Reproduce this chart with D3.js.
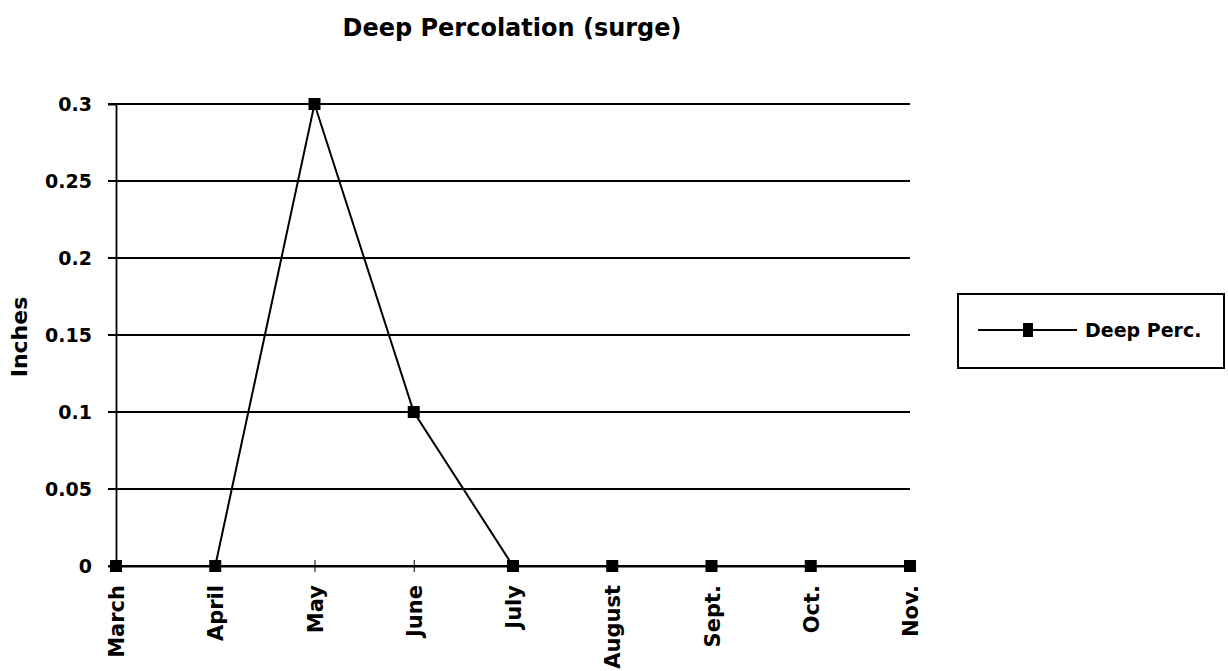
<!DOCTYPE html>
<html>
<head>
<meta charset="utf-8">
<script src="https://cdn.jsdelivr.net/npm/d3@7"></script>
<style>
  body { margin: 0; background: #fff; }
  text { font-family: "DejaVu Sans", "Liberation Sans", sans-serif; fill: #000; }
</style>
</head>
<body>
<div id="chart"></div>
<script>
var months = ["March", "April", "May", "June", "July", "August", "Sept.", "Oct.", "Nov."];
var deepPerc = [0, 0, 0.3, 0.1, 0, 0, 0, 0, 0];
var yTicks = [0, 0.05, 0.1, 0.15, 0.2, 0.25, 0.3];
var yTickLabels = ["0", "0.05", "0.1", "0.15", "0.2", "0.25", "0.3"];
var seriesName = "Deep Perc.";

var width = 1228, height = 671;
var plotLeft = 116, plotRight = 910, plotTop = 104, plotBottom = 566;

var svg = d3.select("#chart").append("svg")
    .attr("width", width)
    .attr("height", height);

var x = d3.scalePoint()
    .domain(months)
    .range([plotLeft, plotRight]);

var y = d3.scaleLinear()
    .domain([0, 0.3])
    .range([plotBottom, plotTop]);

// gridlines
svg.append("g")
    .selectAll("line")
    .data(yTicks)
    .enter().append("line")
    .attr("x1", plotLeft - 8)
    .attr("x2", plotRight)
    .attr("y1", d => y(d))
    .attr("y2", d => y(d))
    .attr("stroke", "#000")
    .attr("stroke-width", 2.2);

// y axis
var yAxis = svg.append("g")
    .attr("transform", `translate(${plotLeft},0)`)
    .call(d3.axisLeft(y).tickValues(yTicks).tickSize(8)
        .tickFormat((d, i) => yTickLabels[i]));
yAxis.select(".domain").attr("stroke-width", 1.8);
yAxis.selectAll("text")
    .attr("x", -24)
    .style("font-size", "19px")
    .style("font-weight", "bold");

// x axis
var xAxis = svg.append("g")
    .attr("transform", `translate(0,${plotBottom})`)
    .call(d3.axisBottom(x).tickSize(6).tickSizeOuter(0));
xAxis.select(".domain").attr("stroke-width", 2.2);
xAxis.selectAll(".tick line").attr("y1", -6);
xAxis.selectAll("text")
    .attr("transform", "rotate(-90)")
    .attr("x", -19)
    .attr("y", 0)
    .attr("dy", "0.36em")
    .style("text-anchor", "end")
    .style("font-size", "21px")
    .style("font-weight", "bold");

// line
var line = d3.line()
    .x((d, i) => x(months[i]))
    .y(d => y(d));

svg.append("path")
    .datum(deepPerc)
    .attr("fill", "none")
    .attr("stroke", "#000")
    .attr("stroke-width", 2)
    .attr("d", line);

svg.append("g")
    .selectAll("rect")
    .data(deepPerc)
    .enter().append("rect")
    .attr("x", (d, i) => x(months[i]) - 6)
    .attr("y", d => y(d) - 6)
    .attr("width", 12)
    .attr("height", 12)
    .attr("fill", "#000");

// title
svg.append("text")
    .attr("x", 512)
    .attr("y", 36)
    .attr("text-anchor", "middle")
    .style("font-size", "24px")
    .style("font-weight", "bold")
    .text("Deep Percolation (surge)");

// y axis title
svg.append("text")
    .attr("transform", "translate(27,337) rotate(-90)")
    .attr("text-anchor", "middle")
    .style("font-size", "22px")
    .style("font-weight", "bold")
    .text("Inches");

// legend
var legend = svg.append("g").attr("transform", "translate(958,294)");
legend.append("rect")
    .attr("width", 266)
    .attr("height", 74)
    .attr("fill", "#fff")
    .attr("stroke", "#000")
    .attr("stroke-width", 2);
legend.append("line")
    .attr("x1", 20).attr("x2", 119)
    .attr("y1", 36).attr("y2", 36)
    .attr("stroke", "#000")
    .attr("stroke-width", 2);
legend.append("rect")
    .attr("x", 65).attr("y", 29)
    .attr("width", 10).attr("height", 14)
    .attr("fill", "#000");
legend.append("text")
    .attr("x", 127)
    .attr("y", 43)
    .style("font-size", "19px")
    .style("font-weight", "bold")
    .text(seriesName);
</script>
</body>
</html>
